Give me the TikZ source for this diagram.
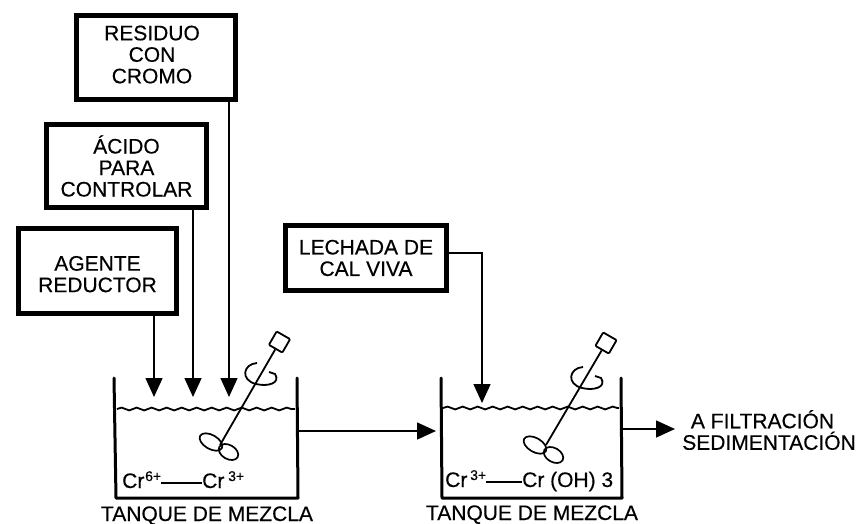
\documentclass[tikz,border=0pt]{standalone}
\usepackage{fontspec}
\setmainfont[FakeBold=0.35]{Liberation Sans}
\usetikzlibrary{arrows.meta,decorations.pathmorphing}
\tikzset{
  x=1pt,y=-1pt,
  boxnode/.style={draw=black,line width=5pt,inner sep=0pt,align=center,font=\fontsize{21}{21.5}\selectfont},
  conn/.style={line width=1.5pt,draw=black},
  flow/.style={conn,-{Triangle[length=19pt,width=17pt]}},
  wall/.style={line width=3pt,line cap=round,line join=round},
  surface/.style={line width=1.8pt,decorate,decoration={snake,amplitude=1.4pt,segment length=15pt}},
  shaft/.style={line width=1.8pt},
  handle/.style={draw=black,line width=1.8pt,rounded corners=1pt,minimum size=15.5pt,inner sep=0pt,rotate=-30},
  blade/.style={line width=1.7pt},
  label/.style={inner sep=0pt,font=\fontsize{21}{21.5}\selectfont,align=center},
  chem/.style={inner sep=0pt,anchor=base west,font=\fontsize{21}{21}\selectfont},
  sup/.style={inner sep=0pt,anchor=base west,font=\fontsize{14}{14}\selectfont},
  dashline/.style={line width=1.3pt},
}
\begin{document}
\begin{tikzpicture}
\useasboundingbox[fill=white] (0,0) rectangle (856,524);

% boxes
\node[boxnode,minimum width=159pt,minimum height=84pt] (res) at (156,57.5) {\begin{tabular}{@{}c@{}}RESIDUO\\CON\\CROMO\end{tabular}\hspace{8pt}};
\node[boxnode,minimum width=160pt,minimum height=83pt] (aci) at (126.5,166) {ÁCIDO\\PARA\\CONTROLAR};
\node[boxnode,minimum width=158pt,minimum height=85pt] (age) at (97.5,271) {\rule{0pt}{21pt}AGENTE\\REDUCTOR};
\node[boxnode,minimum width=161pt,minimum height=65pt] (lec) at (366,258) {LECHADA DE\\CAL VIVA};

% tank 1
\draw[wall] (114,378) -- (116,498) -- (298,498) -- (297,378);
\coordinate (w1a) at (117,409); \coordinate (w1b) at (295,409);
\draw[surface] (w1a) -- (w1b);
\node[handle] (h1) at (279.5,342) {};
\coordinate (hub1) at (220,445);
\draw[shaft] (h1) -- (hub1);
\draw[blade] (211,442) circle [x radius=12.5pt,y radius=7pt,rotate=-30];
\draw[blade] (228.5,452) circle [x radius=10.5pt,y radius=7pt,rotate=-30];
\draw[shaft] (257,363) .. controls (243,364) and (240,380) .. (256,384) .. controls (268,387) and (281,383) .. (275,374) -- (269,372);

\node[chem] (c1) at (122,488) {Cr};
\node[sup] (s1) at (145,481) {6+};
\node[chem] (c2) at (202,488) {Cr};
\node[sup] (s2) at (228,481) {3+};
\draw[dashline] (s1.base east |- 0,483) -- (c2.base west |- 0,483);

% tank 2
\draw[wall] (441,378) -- (442,498) -- (622,498) -- (621,378);
\coordinate (w2a) at (443,408); \coordinate (w2b) at (619,408);
\draw[surface] (w2a) -- (w2b);
\node[handle] (h2) at (606,343) {};
\coordinate (hub2) at (546,445);
\draw[shaft] (h2) -- (hub2);
\draw[blade] (535,445) circle [x radius=12.5pt,y radius=7pt,rotate=-30];
\draw[blade] (553.5,455) circle [x radius=10.5pt,y radius=7pt,rotate=-30];
\draw[shaft] (583,367) .. controls (569,368) and (566,384) .. (582,388) .. controls (594,391) and (607,387) .. (601,378) -- (595,376);

\node[chem] (c3) at (445,487) {Cr};
\node[sup] (s3) at (470,480) {3+};
\node[chem] (c4) at (522,487) {Cr (OH) 3};
\draw[dashline] (s3.base east |- 0,482) -- (c4.base west |- 0,482);

% tank labels
\node[label,anchor=base] (t1) at (207,521) {TANQUE DE MEZCLA};
\node[label,anchor=base] (t2) at (532,520) {TANQUE DE MEZCLA};
\node[label] (out) at (769,430) {A FILTRACIÓN\hspace*{13pt}\\SEDIMENTACIÓN};

% connectors
\coordinate (p1) at (154,397);
\coordinate (p2) at (193,397);
\coordinate (p3) at (229,397);
\coordinate (p4) at (482,403);
\coordinate (bend) at (482,253);
\coordinate (t1out) at (298,431);
\coordinate (t2in) at (436,431);
\coordinate (t2out) at (622,429);
\coordinate (outin) at (675,429);
\draw[flow] (age.south -| p1) -- (p1);
\draw[flow] (aci.south -| p2) -- (p2);
\draw[flow] (res.south -| p3) -- (p3);
\draw[flow] (lec.east |- bend) -- (bend) -- (p4);
\draw[flow] (t1out) -- (t2in);
\draw[flow] (t2out) -- (outin);
\end{tikzpicture}
\end{document}
